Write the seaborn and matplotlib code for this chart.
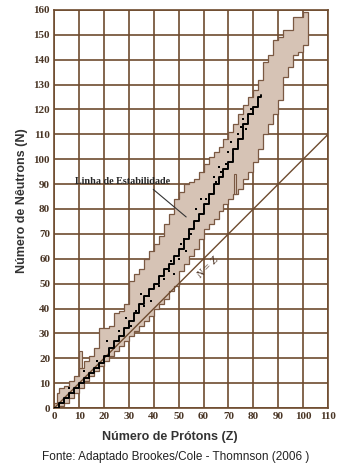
import numpy as np
import pandas as pd
import matplotlib
matplotlib.use("Agg")
import matplotlib.pyplot as plt
import seaborn as sns

# ---- data ----
upper_z = [0, 1, 2, 4, 6, 8, 10, 12, 14, 16, 18, 20, 22, 24, 26, 28, 30, 32, 34, 36, 38, 40,
           42, 44, 46, 48, 50, 52, 54, 56, 58, 60, 62, 64, 66, 68, 70, 72, 74, 76, 78, 80,
           82, 84, 86, 88, 90, 92, 94, 96, 98, 100, 102]
upper_n = [2, 6, 8, 9, 11, 13, 16, 19, 21, 24, 32, 32, 33, 38, 39, 42, 51, 54, 56, 60, 63, 66,
           69, 74, 78, 84, 87, 90, 91, 92, 95, 98, 101, 103, 105, 108, 111, 114, 118, 122, 125, 128,
           132, 139, 142, 148, 149, 152, 152, 157, 157, 159, 159]
lower_z = [0, 2, 4, 6, 8, 10, 12, 14, 16, 18, 20, 22, 24, 26, 28, 30, 32, 34, 36, 38, 40,
           42, 44, 46, 48, 50, 52, 54, 56, 58, 60, 62, 64, 66, 68, 70, 72, 74, 76, 78, 80,
           82, 84, 86, 88, 90, 92, 94, 96, 98, 100, 102]
lower_n = [0, 1, 2, 4, 6, 8, 11, 13, 15, 17, 19, 21, 23, 25, 27, 29, 31, 33, 35, 37, 40,
           42, 44, 47, 49, 55, 58, 61, 64, 68, 72, 74, 76, 79, 82, 84, 86, 88, 92, 95, 99,
           104, 110, 114, 118, 124, 133, 137, 142, 143, 146, 146]

stab_z = [0, 2, 4, 6, 8, 10, 12, 14, 16, 18, 20, 22, 24, 26, 28, 30, 32, 34, 36, 38, 40, 42,
          44, 46, 48, 50, 52, 54, 56, 58, 60, 62, 64, 66, 68, 70, 72, 74, 76, 78, 80, 82, 83]
stab_n = [0, 2, 4, 6, 8, 10, 12, 14, 16, 18, 21, 24, 27, 29, 32, 35, 38, 42, 45, 48, 50, 53,
          56, 58, 61, 64, 68, 72, 75, 78, 82, 86, 90, 93, 96, 99, 104, 108, 114, 118, 121, 125, 126]

dot_z = [6, 8, 12, 14, 17, 18, 21, 24, 26, 28, 29, 31, 33, 36, 38, 39, 42, 44, 46, 48, 50, 51,
         53, 55, 57, 58, 60, 61, 63, 64, 66, 67, 69, 71, 72, 74, 76, 77, 79, 80,
         35, 47, 52, 59, 65, 70, 75]
dot_n = [8, 6, 15, 12, 19, 16, 27, 25, 31, 30, 36, 33, 39, 41, 45, 43, 49, 52, 55, 54, 60, 66,
         63, 70, 80, 76, 80, 84, 86, 93, 97, 95, 98, 107, 102, 110, 116, 112, 120, 118,
         46, 59, 68, 84, 91, 103, 113]

spike_z = [10.5, 72.5]
spike_bottom = [16, 86]
spike_top = [23, 94]

x_ticks = list(range(0, 111, 10))
y_ticks = list(range(0, 161, 10))

BROWN = "#6e4b2f"
TICKC = "#4a3626"
FILL = "#d6c3b5"
EDGE = "#7a5842"

sns.set_theme(style="white")
plt.rcParams["font.family"] = ["Liberation Sans", "DejaVu Sans"]

fig = plt.figure(figsize=(3.51, 4.66), dpi=100)
ax = fig.add_axes([54.3 / 351, 58 / 466, (328 - 54.3) / 351, 398 / 466])


def steps(z, n):
    xs, ys = [], []
    for i in range(len(z) - 1):
        xs += [z[i], z[i + 1]]
        ys += [n[i], n[i]]
    return xs, ys

ux, uy = steps(upper_z, upper_n)
lx, ly = steps(lower_z, lower_n)
poly_x = ux + [upper_z[-1], lower_z[-1]] + lx[::-1]
poly_y = uy + [upper_n[-1], lower_n[-1]] + ly[::-1]
ax.fill(poly_x, poly_y, facecolor=FILL, edgecolor=EDGE, linewidth=0.9, zorder=2)

# small isolated spikes
ax.bar(spike_z, np.array(spike_top) - np.array(spike_bottom), bottom=spike_bottom, width=0.9,
       color=FILL, edgecolor=EDGE, linewidth=0.8, zorder=2)

# N = Z line
ax.plot([0, 110], [0, 110], color=BROWN, lw=1.0, zorder=3)

# stability line
stab = pd.DataFrame({"Z": stab_z, "N": stab_n})
sns.lineplot(data=stab, x="Z", y="N", ax=ax, color="black", lw=1.4, drawstyle="steps-post",
             zorder=4)
dots = pd.DataFrame({"Z": dot_z, "N": dot_n})
sns.scatterplot(data=dots, x="Z", y="N", ax=ax, color="black", s=4, marker="s", linewidth=0,
                zorder=4)

ax.set_xlim(0, 110)
ax.set_ylim(0, 160)
ax.set_xticks(x_ticks)
ax.set_yticks(y_ticks)
ax.grid(True, color=BROWN, lw=1.2, zorder=1)
ax.set_axisbelow(True)
for s in ax.spines.values():
    s.set_color(BROWN)
    s.set_linewidth(1.2)
ax.tick_params(length=0, pad=3)
for lab in ax.get_xticklabels() + ax.get_yticklabels():
    lab.set_fontfamily("Liberation Serif")
    lab.set_fontweight("bold")
    lab.set_fontsize(8)
    lab.set_color(TICKC)

ax.set_xlabel("Número de Prótons (Z)", fontsize=9, fontweight="bold", color="#333333",
              labelpad=5)
ax.xaxis.set_label_coords(0.423, -0.057)
ax.set_ylabel("Número de Nêutrons (N)", fontsize=9, fontweight="bold", color="#333333")
ax.yaxis.set_label_coords(-0.095, 0.52)

ax.annotate("Linha de Estabilidade", xy=(53, 76.8), xytext=(27.5, 91),
            fontsize=7.3, fontweight="bold", family="Liberation Serif", ha="center", va="center",
            arrowprops=dict(arrowstyle="-", color="#333333", lw=0.8,
                            shrinkA=0, shrinkB=0, relpos=(0.78, 0.0)), zorder=5)
ax.text(61.5, 56.5, "N = Z", rotation=45, fontsize=8, style="italic",
        family="Liberation Serif", color="#4a3020", ha="center", va="center", zorder=5)

fig.text(176 / 351, 1 - 457 / 466, "Fonte: Adaptado Brookes/Cole - Thomnson (2006 )",
         fontsize=8.5, ha="center", va="center", color="#222222")

fig.savefig("out.png", dpi=100)
